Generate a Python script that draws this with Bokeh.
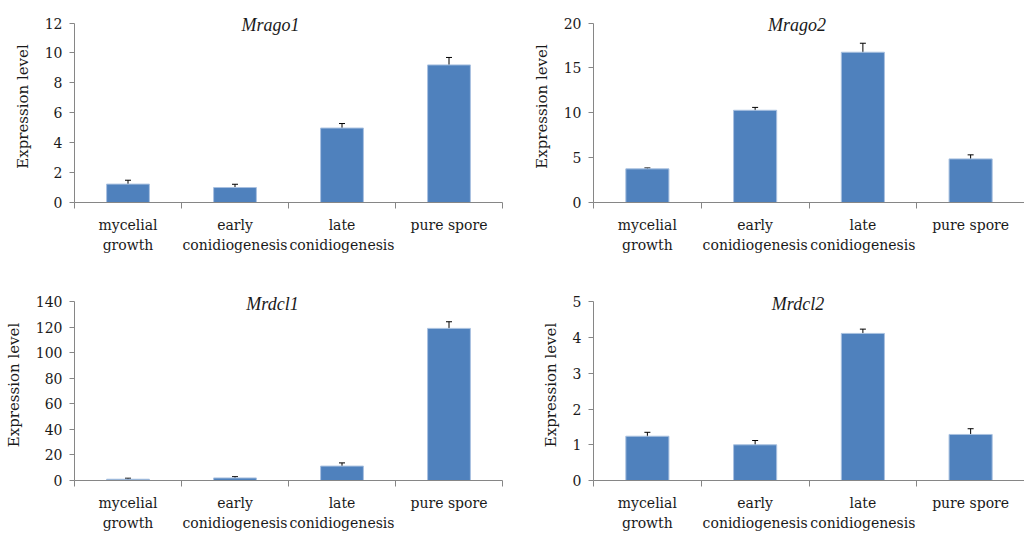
from bokeh.plotting import figure
from bokeh.layouts import gridplot
from bokeh.models import (ColumnDataSource, Range1d, FixedTicker, Whisker, TeeHead, Label)
from bokeh.embed import file_html
from bokeh.resources import INLINE

categories = ["mycelial\ngrowth", "early\nconidiogenesis", "late\nconidiogenesis", "pure spore"]

titles = ["Mrago1", "Mrago2", "Mrdcl1", "Mrdcl2"]

mrago1 = [1.23, 1.0, 4.98, 9.2]
mrago1_err = [0.26, 0.22, 0.3, 0.5]

mrago2 = [3.75, 10.28, 16.75, 4.86]
mrago2_err = [0.1, 0.32, 1.0, 0.45]

mrdcl1 = [1.0, 2.0, 11.3, 119.3]
mrdcl1_err = [0.8, 1.0, 2.5, 5.2]

mrdcl2 = [1.24, 1.0, 4.12, 1.29]
mrdcl2_err = [0.11, 0.12, 0.12, 0.16]

y_max = [12, 20, 140, 5]
y_step = [2, 5, 20, 1]

TITLE_FONT = "'Liberation Serif', 'Times New Roman', Times, serif"
AX_FONT = "DejaVu Serif"
BAR = "#4F81BD"
AXIS = "#868686"
TXT = "#1a1a1a"
PAD = 0.07


def panel(title, vals, errs, ymax, ystep, width, height, left, right, top, bottom, title_dx):
    n = len(categories)
    xs = [i + 0.5 for i in range(n)]
    src = ColumnDataSource(dict(
        x=xs, v=vals,
        upper=[v + e for v, e in zip(vals, errs)],
        lower=[v - e for v, e in zip(vals, errs)],
    ))
    p = figure(width=width, height=height, output_backend="svg", toolbar_location=None,
               x_range=Range1d(0, n), y_range=Range1d(0, ymax * (1 + PAD)),
               min_border_left=left, min_border_right=right,
               min_border_top=top, min_border_bottom=bottom)
    p.outline_line_color = None
    p.xgrid.visible = False
    p.ygrid.visible = False

    p.vbar(x="x", top="v", width=0.4, bottom=0, source=src,
           fill_color=BAR, line_color="#A9C1E0", line_width=1)
    w = Whisker(source=src, base="x", upper="upper", lower="lower",
                line_color="black", line_width=1,
                upper_head=TeeHead(size=6, line_color="black", line_width=1),
                lower_head=TeeHead(size=6, line_color="black", line_width=1))
    p.add_layout(w)

    p.xaxis.ticker = FixedTicker(ticks=xs, minor_ticks=list(range(n + 1)))
    p.xaxis.major_label_overrides = {x: c for x, c in zip(xs, categories)}
    p.xaxis.major_tick_line_color = None
    p.xaxis.major_tick_out = 0
    p.xaxis.major_tick_in = 0
    p.xaxis.minor_tick_line_color = AXIS
    p.xaxis.minor_tick_out = 6
    p.xaxis.minor_tick_in = 0
    p.xaxis.axis_line_color = AXIS
    p.xaxis.major_label_text_font = AX_FONT
    p.xaxis.major_label_text_font_size = "14px"
    p.xaxis.major_label_text_color = TXT
    p.xaxis.major_label_text_line_height = 1.3
    p.xaxis.major_label_standoff = 8

    p.yaxis.ticker = FixedTicker(ticks=list(range(0, ymax + 1, ystep)))
    p.yaxis.bounds = (0, ymax)
    p.yaxis.minor_tick_line_color = None
    p.yaxis.major_tick_line_color = AXIS
    p.yaxis.major_tick_out = 5
    p.yaxis.major_tick_in = 0
    p.yaxis.axis_line_color = AXIS
    p.yaxis.major_label_text_font = AX_FONT
    p.yaxis.major_label_text_font_size = "14px"
    p.yaxis.major_label_text_color = TXT
    p.yaxis.major_label_standoff = 7
    p.yaxis.axis_label = "Expression level"
    p.yaxis.axis_label_text_font = AX_FONT
    p.yaxis.axis_label_text_font_size = "15px"
    p.yaxis.axis_label_text_font_style = "normal"
    p.yaxis.axis_label_text_color = TXT
    p.yaxis.axis_label_standoff = 10

    p.add_layout(Label(x=n / 2, y=ymax, text=title, text_font=TITLE_FONT, text_font_size="18px",
                       text_font_style="italic", text_color=TXT, text_align="center",
                       text_baseline="middle", x_offset=title_dx, y_offset=-2))
    return p


p1 = panel(titles[0], mrago1, mrago1_err, y_max[0], y_step[0], 512, 268, 74, 10, 7, 65, -18)
p2 = panel(titles[1], mrago2, mrago2_err, y_max[1], y_step[1], 512, 268, 78, 0, 10, 66, -12)
p3 = panel(titles[2], mrdcl1, mrdcl1_err, y_max[2], y_step[2], 512, 266, 74, 10, 18, 46, -16)
p4 = panel(titles[3], mrdcl2, mrdcl2_err, y_max[3], y_step[3], 512, 266, 81, 0, 21, 46, -11)

grid = gridplot([[p1, p2], [p3, p4]], toolbar_location=None)

open("out.html", "w").write(file_html(grid, INLINE))
